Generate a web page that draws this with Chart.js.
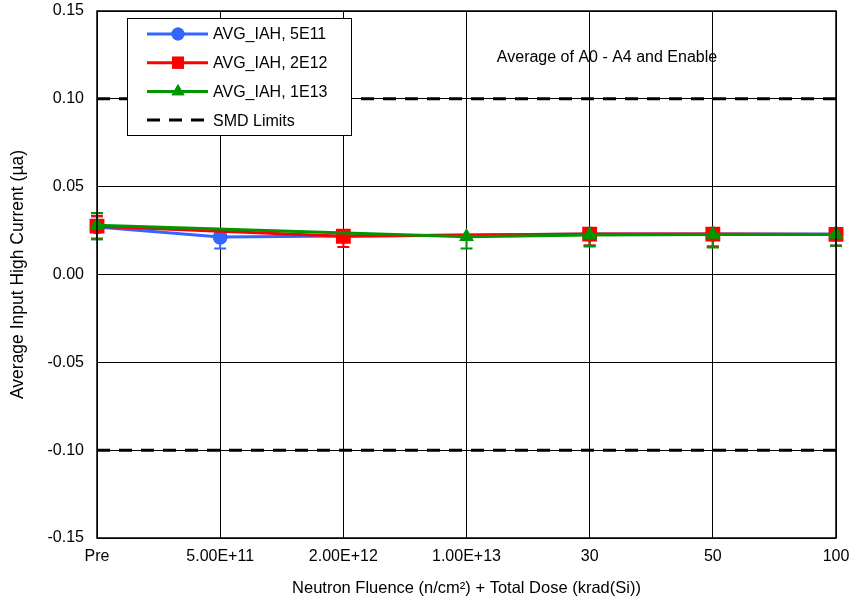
<!DOCTYPE html>
<html>
<head>
<meta charset="utf-8">
<script src="https://cdn.jsdelivr.net/npm/chart.js@4/dist/chart.umd.min.js"></script>
<style>
  html, body { margin: 0; padding: 0; background: #fff; }
  #wrap { width: 853px; height: 603px; position: relative; }
</style>
</head>
<body>
<div id="wrap"><canvas id="chart"></canvas></div>
<script>
// Fluence / dose steps along the x axis
const categories = ['Pre', '5.00E+11', '2.00E+12', '1.00E+13', '30', '50', '100'];
const yTicks = [-0.15, -0.10, -0.05, 0.00, 0.05, 0.10, 0.15];

// Average input high current per lot (null = not measured at that step)
const iah5E11 = [0.0270, 0.0213, null, null, 0.0230, 0.0230, 0.0230];
const iah2E12 = [0.0275, null, 0.0218, null, 0.0230, 0.0230, 0.0228];
const iah1E13 = [0.0280, null, null, 0.0215, 0.0225, 0.0228, 0.0228];

// Error bar extents (plus / minus)
const errPlus5E11 = [0.0060, 0, 0, 0, 0, 0, 0];
const errMinus5E11 = [0.0070, 0.0065, 0, 0, 0.0065, 0.0070, 0.0065];
const errPlus2E12 = [0.0060, 0, 0, 0, 0, 0, 0];
const errMinus2E12 = [0.0070, 0, 0.0062, 0, 0.0065, 0.0070, 0.0065];
const errPlus1E13 = [0.0070, 0, 0, 0, 0, 0, 0];
const errMinus1E13 = [0.0080, 0, 0, 0.0067, 0.0065, 0.0075, 0.0065];

// SMD limits
const smdUpper = [0.10, 0.10, 0.10, 0.10, 0.10, 0.10, 0.10];
const smdLower = [-0.10, -0.10, -0.10, -0.10, -0.10, -0.10, -0.10];

const FONT = "'Liberation Sans', Arial, sans-serif";
const FONT_SIZE = 16;
const BLUE = 'rgb(51,102,255)';
const RED = 'rgb(255,0,0)';
const GREEN = 'rgb(0,150,0)';

/**
 * Draw vertical error bars under the markers
 */
const errorBarPlugin = {
    id: 'errorBars',
    beforeDatasetsDraw(chart) {
        const ctx = chart.ctx;
        const y = chart.scales.y;
        chart.data.datasets.forEach((ds, i) => {
            if (!ds.errPlus) return;
            const meta = chart.getDatasetMeta(i);
            ctx.save();
            ctx.strokeStyle = ds.borderColor;
            ctx.lineWidth = 2;
            meta.data.forEach((pt, j) => {
                const v = ds.data[j];
                if (v === null) return;
                const yTop = y.getPixelForValue(v + ds.errPlus[j]);
                const yBot = y.getPixelForValue(v - ds.errMinus[j]);
                ctx.beginPath();
                ctx.moveTo(pt.x, yTop);
                ctx.lineTo(pt.x, yBot);
                if (ds.errPlus[j] > 0) {
                    ctx.moveTo(pt.x - 6, yTop);
                    ctx.lineTo(pt.x + 6, yTop);
                }
                if (ds.errMinus[j] > 0) {
                    ctx.moveTo(pt.x - 6, yBot);
                    ctx.lineTo(pt.x + 6, yBot);
                }
                ctx.stroke();
            });
            ctx.restore();
        });
    }
};

/**
 * Boxed legend, annotation text and plot frame
 */
const overlayPlugin = {
    id: 'overlay',
    afterDraw(chart) {
        const ctx = chart.ctx;
        const area = chart.chartArea;
        ctx.save();

        // plot frame
        ctx.strokeStyle = '#000';
        ctx.lineWidth = 1.5;
        ctx.strokeRect(area.left, area.top, area.right - area.left, area.bottom - area.top);

        // annotation
        ctx.fillStyle = '#000';
        ctx.font = FONT_SIZE + 'px ' + FONT;
        ctx.textAlign = 'center';
        ctx.textBaseline = 'middle';
        ctx.fillText('Average of A0 - A4 and Enable', 607, 58);

        // legend box
        const bx = 127, by = 18, bw = 224, bh = 117;
        ctx.fillStyle = '#fff';
        ctx.fillRect(bx, by, bw, bh);
        ctx.strokeStyle = '#000';
        ctx.lineWidth = 1;
        ctx.strokeRect(bx + 0.5, by + 0.5, bw, bh);

        const rows = [
            { label: 'AVG_IAH, 5E11', color: BLUE, style: 'circle', r: 6.5 },
            { label: 'AVG_IAH, 2E12', color: RED, style: 'rect', r: 8.5 },
            { label: 'AVG_IAH, 1E13', color: GREEN, style: 'triangle', r: 7.5 },
            { label: 'SMD Limits', color: '#000', style: null }
        ];
        rows.forEach((row, k) => {
            const ry = 34 + k * 28.7;
            ctx.strokeStyle = row.color;
            ctx.lineWidth = 3;
            ctx.beginPath();
            if (row.style) {
                ctx.moveTo(147, ry);
                ctx.lineTo(208, ry);
                ctx.stroke();
                ctx.fillStyle = row.color;
                Chart.helpers.drawPoint(ctx, { pointStyle: row.style, radius: row.r, rotation: 0, borderWidth: 0 }, 178, ry);
                ctx.fill();
            } else {
                ctx.setLineDash([13, 9]);
                ctx.moveTo(147, ry);
                ctx.lineTo(208, ry);
                ctx.stroke();
                ctx.setLineDash([]);
            }
            ctx.fillStyle = '#000';
            ctx.font = FONT_SIZE + 'px ' + FONT;
            ctx.textAlign = 'left';
            ctx.fillText(row.label, 213, ry + 1);
        });
        ctx.restore();
    }
};

function seriesDataset(label, data, color, style, radius, plus, minus, order) {
    return {
        label: label,
        data: data,
        borderColor: color,
        backgroundColor: color,
        borderWidth: 3,
        pointStyle: style,
        pointRadius: radius,
        pointBorderWidth: 0,
        spanGaps: true,
        errPlus: plus,
        errMinus: minus,
        order: order
    };
}

function limitDataset(label, data) {
    return {
        label: label,
        data: data,
        borderColor: '#000',
        borderWidth: 3,
        borderDash: [13, 9],
        pointRadius: 0,
        order: 5
    };
}

new Chart(document.getElementById('chart'), {
    type: 'line',
    data: {
        labels: categories,
        datasets: [
            seriesDataset('AVG_IAH, 5E11', iah5E11, BLUE, 'circle', 7.5, errPlus5E11, errMinus5E11, 3),
            seriesDataset('AVG_IAH, 2E12', iah2E12, RED, 'rect', 10.5, errPlus2E12, errMinus2E12, 2),
            seriesDataset('AVG_IAH, 1E13', iah1E13, GREEN, 'triangle', 8.7, errPlus1E13, errMinus1E13, 1),
            limitDataset('SMD Limits', smdUpper),
            limitDataset('SMD Limits (low)', smdLower)
        ]
    },
    options: {
        responsive: true,
        maintainAspectRatio: false,
        animation: false,
        layout: { padding: { top: 11, right: 17, left: 0, bottom: 0 } },
        plugins: {
            legend: { display: false },
            tooltip: { enabled: false }
        },
        scales: {
            x: {
                offset: false,
                afterFit: (scale) => {
                    scale.height = 65;
                    scale.paddingLeft = 0;
                    scale.paddingRight = 0;
                },
                grid: { color: '#000', lineWidth: 1, drawTicks: false },
                border: { display: false },
                ticks: {
                    color: '#000',
                    font: { family: FONT, size: FONT_SIZE },
                    padding: 9,
                    maxRotation: 0,
                    autoSkip: false
                },
                title: {
                    display: true,
                    text: 'Neutron Fluence (n/cm²) + Total Dose (krad(Si))',
                    color: '#000',
                    font: { family: FONT, size: 16.5 },
                    padding: { top: 0, bottom: 5 }
                }
            },
            y: {
                min: -0.15,
                max: 0.15,
                afterFit: (scale) => {
                    scale.width = 97;
                    scale.paddingTop = 0;
                    scale.paddingBottom = 0;
                },
                afterBuildTicks: (scale) => { scale.ticks = yTicks.map(v => ({ value: v })); },
                grid: { color: '#000', lineWidth: 1, drawTicks: false },
                border: { display: false },
                ticks: {
                    color: '#000',
                    font: { family: FONT, size: FONT_SIZE },
                    padding: 13,
                    callback: (v) => v.toFixed(2)
                },
                title: {
                    display: true,
                    text: 'Average Input High Current (µa)',
                    color: '#000',
                    font: { family: FONT, size: 17.5 },
                    padding: { top: 8, bottom: 0 }
                }
            }
        }
    },
    plugins: [errorBarPlugin, overlayPlugin]
});
</script>
</body>
</html>
